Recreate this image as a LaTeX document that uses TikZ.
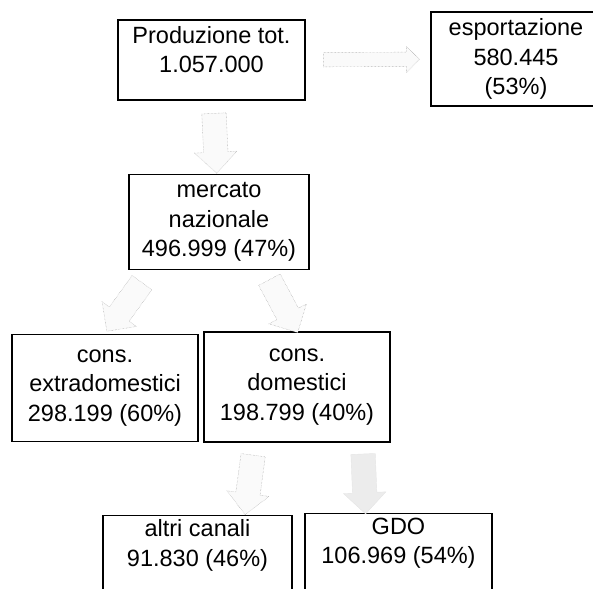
\documentclass[tikz,border=0pt]{standalone}
\usepackage{fontspec}
\setmainfont{Liberation Sans}
\usetikzlibrary{shapes.arrows,calc}

\tikzset{
  box/.style={draw, line width=1.4pt, align=center, inner sep=4pt,
    font=\fontsize{23.5}{29.5}\selectfont},
  flow/.style={single arrow, draw=gray!85, densely dotted, fill=gray!4,
    minimum height=60pt, inner xsep=0pt, inner ysep=12pt, single arrow head extend=9pt,
    sloped, allow upside down},
}

\begin{document}
\begin{tikzpicture}[x=1pt,y=-1pt]
    \useasboundingbox (0,0) rectangle (593,588);
    \node[box, minimum width=187pt, minimum height=80pt] (prod) at (211.5,60) {Produzione tot.\\1.057.000\\[-8pt]};
    \node[box, minimum width=170pt, minimum height=94pt] (esport) at (516,59) {esportazione\\580.445\\(53\%)};
    \node[box, minimum width=180pt, minimum height=95pt] (merc) at (219,222) {mercato\\nazionale\\496.999 (47\%)};
    \node[box, minimum width=186pt, minimum height=107pt] (extra) at (105,388) {cons.\\extradomestici\\298.199 (60\%)};
    \node[box, minimum width=186pt, minimum height=110pt] (dom) at (297,387) {cons.\\domestici\\198.799 (40\%)};
    \node[box, minimum width=189pt, anchor=north] (altri) at (197.5,515) {altri canali\\91.830 (46\%)\\\rule{0pt}{20pt}};
    \node[box, minimum width=187pt, anchor=north] (gdo) at (398.5,513) {GDO\\106.969 (54\%)\\\rule{0pt}{20pt}};

    % frecce
    \path (prod) -- (esport) node[flow, midway, minimum height=96pt, inner ysep=7pt, single arrow head extend=6pt] {};
    \path (prod) -- (merc) node[flow, midway] {};
    \path ($(merc.south west)!0.25!(merc.south)$) -- (extra.north) node[flow, midway] {};
    \path ($(merc.south)!0.5!(merc.south east)$) -- (dom.north) node[flow, midway] {};
    \path ($(dom.south west)!0.55!(dom.south)$) -- ($(altri.north)!0.5!(altri.north east)$) node[flow, midway] {};
    \path ($(dom.south)!0.7!(dom.south east)$) -- ($(gdo.north)!0.35!(gdo.north west)$) node[flow, midway, solid, draw=gray!20, fill=gray!15] {};
\end{tikzpicture}
\end{document}
